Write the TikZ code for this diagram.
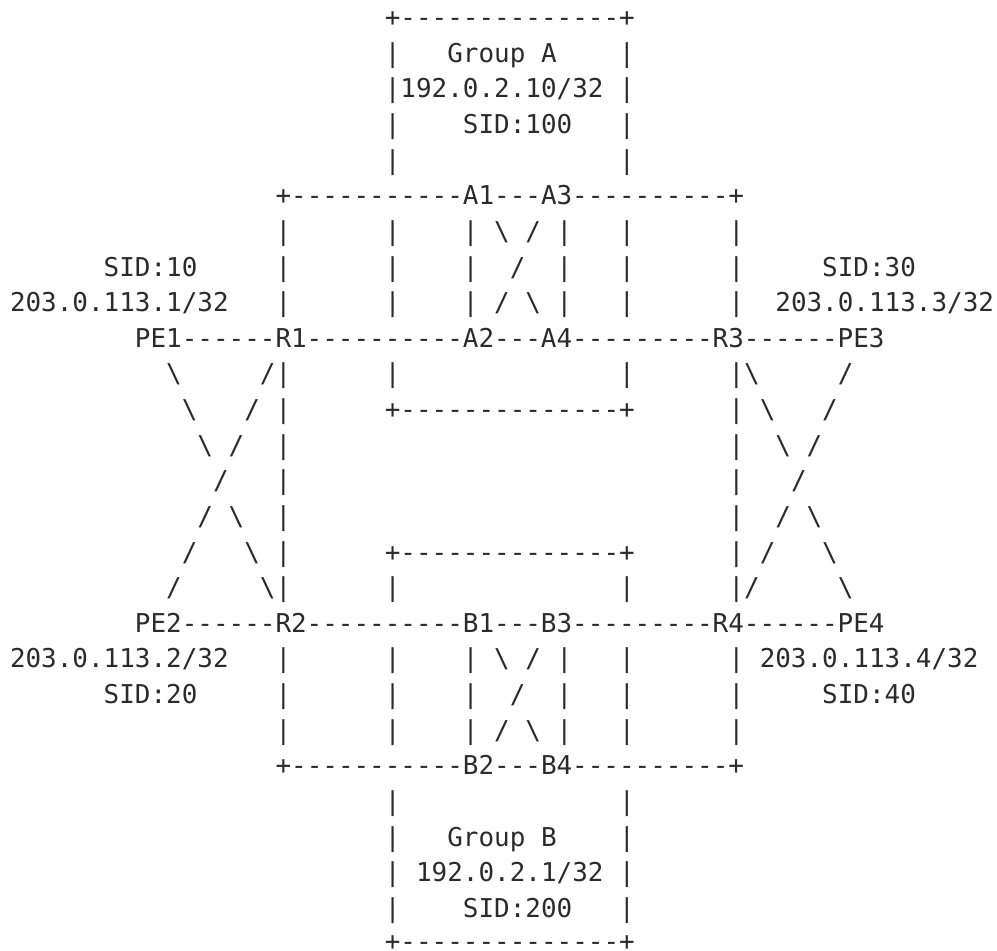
\documentclass[tikz,border=0pt]{standalone}
\usepackage{fontspec}
\setmonofont{DejaVu Sans Mono}
\definecolor{ink}{HTML}{2B2B2B}
\tikzset{t/.style={anchor=base west, inner sep=0pt, outer sep=0pt, text=ink,
  font=\ttfamily\fontsize{25.94pt}{31pt}\selectfont}}
% row, column, text
\newcommand\asc[3]{\node[t] (r#1c#2) at ({10pt+15.62pt*#2},{-26.6pt-35.63pt*#1}) {#3};}
\newcommand\bs{\textbackslash}
\begin{document}
\begin{tikzpicture}
\useasboundingbox (0,0) rectangle (997pt,-951pt);
% Group A box
\asc{0}{24}{+--------------+}
\asc{1}{24}{|}\asc{1}{28}{Group A}\asc{1}{39}{|}
\asc{2}{24}{|192.0.2.10/32}\asc{2}{39}{|}
\asc{3}{24}{|}\asc{3}{29}{SID:100}\asc{3}{39}{|}
\asc{4}{24}{|}\asc{4}{39}{|}
\asc{5}{17}{+-----------A1---A3----------+}
\asc{6}{17}{|}\asc{6}{24}{|}\asc{6}{29}{|}\asc{6}{31}{\bs}\asc{6}{33}{/}\asc{6}{35}{|}\asc{6}{39}{|}\asc{6}{46}{|}
\asc{7}{6}{SID:10}\asc{7}{17}{|}\asc{7}{24}{|}\asc{7}{29}{|}\asc{7}{32}{/}\asc{7}{35}{|}\asc{7}{39}{|}\asc{7}{46}{|}\asc{7}{52}{SID:30}
\asc{8}{0}{203.0.113.1/32}\asc{8}{17}{|}\asc{8}{24}{|}\asc{8}{29}{|}\asc{8}{31}{/}\asc{8}{33}{\bs}\asc{8}{35}{|}\asc{8}{39}{|}\asc{8}{46}{|}\asc{8}{49}{203.0.113.3/32}
\asc{9}{8}{PE1------R1----------A2---A4---------R3------PE3}
\asc{10}{10}{\bs}\asc{10}{16}{/|}\asc{10}{24}{|}\asc{10}{39}{|}\asc{10}{46}{|\bs}\asc{10}{53}{/}
\asc{11}{11}{\bs}\asc{11}{15}{/}\asc{11}{17}{|}\asc{11}{24}{+--------------+}\asc{11}{46}{|}\asc{11}{48}{\bs}\asc{11}{52}{/}
\asc{12}{12}{\bs}\asc{12}{14}{/}\asc{12}{17}{|}\asc{12}{46}{|}\asc{12}{49}{\bs}\asc{12}{51}{/}
\asc{13}{13}{/}\asc{13}{17}{|}\asc{13}{46}{|}\asc{13}{50}{/}
\asc{14}{12}{/}\asc{14}{14}{\bs}\asc{14}{17}{|}\asc{14}{46}{|}\asc{14}{49}{/}\asc{14}{51}{\bs}
\asc{15}{11}{/}\asc{15}{15}{\bs}\asc{15}{17}{|}\asc{15}{24}{+--------------+}\asc{15}{46}{|}\asc{15}{48}{/}\asc{15}{52}{\bs}
\asc{16}{10}{/}\asc{16}{16}{\bs|}\asc{16}{24}{|}\asc{16}{39}{|}\asc{16}{46}{|/}\asc{16}{53}{\bs}
\asc{17}{8}{PE2------R2----------B1---B3---------R4------PE4}
\asc{18}{0}{203.0.113.2/32}\asc{18}{17}{|}\asc{18}{24}{|}\asc{18}{29}{|}\asc{18}{31}{\bs}\asc{18}{33}{/}\asc{18}{35}{|}\asc{18}{39}{|}\asc{18}{46}{|}\asc{18}{48}{203.0.113.4/32}
\asc{19}{6}{SID:20}\asc{19}{17}{|}\asc{19}{24}{|}\asc{19}{29}{|}\asc{19}{32}{/}\asc{19}{35}{|}\asc{19}{39}{|}\asc{19}{46}{|}\asc{19}{52}{SID:40}
\asc{20}{17}{|}\asc{20}{24}{|}\asc{20}{29}{|}\asc{20}{31}{/}\asc{20}{33}{\bs}\asc{20}{35}{|}\asc{20}{39}{|}\asc{20}{46}{|}
\asc{21}{17}{+-----------B2---B4----------+}
% Group B box
\asc{22}{24}{|}\asc{22}{39}{|}
\asc{23}{24}{|}\asc{23}{28}{Group B}\asc{23}{39}{|}
\asc{24}{24}{|}\asc{24}{26}{192.0.2.1/32}\asc{24}{39}{|}
\asc{25}{24}{|}\asc{25}{29}{SID:200}\asc{25}{39}{|}
\node[t] (r26c24) at ({10pt+15.62pt*24},{-950.5pt}) {+--------------+};
\end{tikzpicture}
\end{document}
